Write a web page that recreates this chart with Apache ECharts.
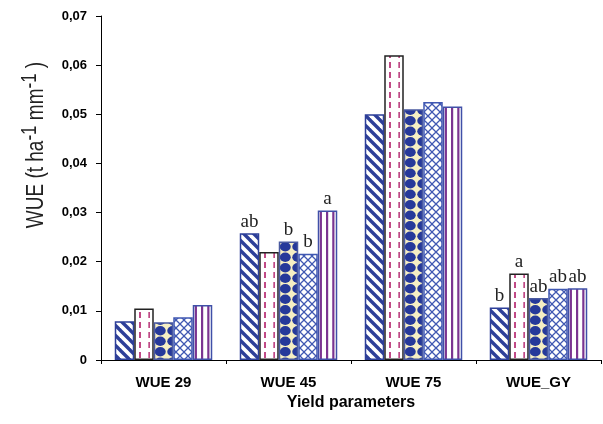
<!DOCTYPE html>
<html>
<head>
<meta charset="utf-8">
<script src="https://cdn.jsdelivr.net/npm/echarts@6/dist/echarts.min.js"></script>
<style>
  html, body { margin: 0; padding: 0; background: #fff; }
  #chart { width: 603px; height: 424px; }
</style>
</head>
<body>
<div id="chart"></div>
<script>
// categories and values
var categories = ['WUE 29', 'WUE 45', 'WUE 75', 'WUE_GY'];
var treat1 = [0.0079, 0.0258, 0.0500, 0.0107];
var treat2 = [0.0105, 0.0220, 0.0620, 0.0176];
var treat3 = [0.0077, 0.0241, 0.0510, 0.0126];
var treat4 = [0.0087, 0.0216, 0.0525, 0.0145];
var treat5 = [0.0112, 0.0304, 0.0516, 0.0146];
// significance letters over bars
var letters1 = ['', 'ab', '', 'b'];
var letters2 = ['', '', '', 'a'];
var letters3 = ['', 'b', '', 'ab'];
var letters4 = ['', 'b', '', 'ab'];
var letters5 = ['', 'a', '', 'ab'];

// --- fill patterns ---
function makeTile(w, h, draw) {
  var c = document.createElement('canvas');
  c.width = w; c.height = h;
  var ctx = c.getContext('2d');
  draw(ctx, w, h);
  return c;
}

// diagonal stripes "\\"
var pat1 = makeTile(10, 10, function (ctx, w, h) {
  ctx.fillStyle = '#fff';
  ctx.fillRect(0, 0, w, h);
  ctx.strokeStyle = '#2d3f99';
  ctx.lineWidth = 3.4;
  for (var k = -1; k <= 1; k++) {
    ctx.beginPath();
    ctx.moveTo(k * w - 2, -2);
    ctx.lineTo(k * w + w + 2, h + 2);
    ctx.stroke();
  }
});

// dashed vertical lines
var pat2 = makeTile(25, 10, function (ctx, w, h) {
  ctx.fillStyle = '#fff';
  ctx.fillRect(0, 0, w, h);
  ctx.fillStyle = '#c04a86';
  ctx.fillRect(14, 2, 2, 6);
  ctx.fillRect(23.3, 2, 2, 6);
});

// navy circles on cream, cream stars in the gaps
var pat3 = makeTile(25, 21, function (ctx, w, h) {
  ctx.fillStyle = '#f6efc4';
  ctx.fillRect(0, 0, w, h);
  ctx.fillStyle = '#26399a';
  [-2.25, 10.25, 22.75, 35.25].forEach(function (cx) {
    [-5.25, 5.25, 15.75, 26.25].forEach(function (cy) {
      ctx.beginPath();
      ctx.ellipse(cx, cy, 5.5, 4.7, 0, 0, Math.PI * 2);
      ctx.fill();
    });
  });
});

// blue diamond lattice
var pat4 = makeTile(8, 8, function (ctx, w, h) {
  ctx.fillStyle = '#fff';
  ctx.fillRect(0, 0, w, h);
  ctx.strokeStyle = '#4058b2';
  ctx.lineWidth = 1.3;
  ctx.beginPath();
  ctx.moveTo(-1, -1); ctx.lineTo(w + 1, h + 1);
  ctx.moveTo(w + 1, -1); ctx.lineTo(-1, h + 1);
  ctx.stroke();
});

// purple vertical stripes
var pat5 = makeTile(25, 4, function (ctx, w, h) {
  ctx.fillStyle = '#fff';
  ctx.fillRect(0, 0, w, h);
  ctx.fillStyle = '#7b3491';
  [2.1, 8.35, 14.6, 20.85].forEach(function (x) {
    ctx.fillRect(x - 1.1, 0, 2.2, h);
  });
});

function barSeries(name, data, letters, pat, border) {
  return {
    name: name,
    type: 'bar',
    data: data,
    barGap: 0,
    barCategoryGap: '22%',
    itemStyle: {
      color: { image: pat, repeat: 'repeat' },
      borderColor: border,
      borderWidth: 1.5
    },
    label: {
      show: true,
      position: 'top',
      distance: 2,
      fontFamily: 'Liberation Serif',
      fontSize: 19,
      color: '#222',
      formatter: function (p) { return letters[p.dataIndex]; }
    },
    emphasis: { disabled: true }
  };
}

var chart = echarts.init(document.getElementById('chart'));
chart.setOption({
  animation: false,
  backgroundColor: '#fff',
  grid: { left: 101, right: 2, top: 16, bottom: 64, containLabel: false, outerBoundsMode: 'none' },
  xAxis: {
    type: 'category',
    data: categories,
    name: 'Yield parameters',
    nameLocation: 'middle',
    nameGap: 33,
    nameTextStyle: { fontFamily: 'Liberation Sans', fontWeight: 'bold', fontSize: 16, color: '#000' },
    axisLine: { lineStyle: { color: '#000', width: 1 } },
    axisTick: { show: true, length: 4, lineStyle: { color: '#000' } },
    axisLabel: { margin: 15, fontFamily: 'Liberation Sans', fontWeight: 'bold', fontSize: 15, color: '#000' }
  },
  yAxis: {
    type: 'value',
    min: 0,
    max: 0.07,
    interval: 0.01,
    axisLine: { show: true, lineStyle: { color: '#000', width: 1 } },
    axisTick: { show: true, length: 5, lineStyle: { color: '#000' } },
    splitLine: { show: false },
    axisLabel: {
      margin: 14,
      fontFamily: 'Liberation Sans',
      fontWeight: 'bold',
      fontSize: 13,
      color: '#000',
      formatter: function (v) { return v === 0 ? '0' : v.toFixed(2).replace('.', ','); }
    }
  },
  graphic: [{
    type: 'text',
    x: 36,
    y: 145,
    rotation: Math.PI / 2,
    scaleY: 1.3,
    style: {
      text: 'WUE (t ha{s|-1} mm{s|-1} )',
      fontFamily: 'Liberation Sans',
      fontSize: 19,
      fill: '#222',
      align: 'center',
      verticalAlign: 'middle',
      rich: {
        s: { fontFamily: 'Liberation Sans', fontSize: 17, fill: '#222', verticalAlign: 'top', padding: [0, 0, 10, 0] }
      }
    }
  }],
  series: [
    barSeries('T1', treat1, letters1, pat1, '#2d3f99'),
    barSeries('T2', treat2, letters2, pat2, '#222'),
    barSeries('T3', treat3, letters3, pat3, '#4a5aa0'),
    barSeries('T4', treat4, letters4, pat4, '#4058b2'),
    barSeries('T5', treat5, letters5, pat5, '#4050a8')
  ]
});
</script>
</body>
</html>
